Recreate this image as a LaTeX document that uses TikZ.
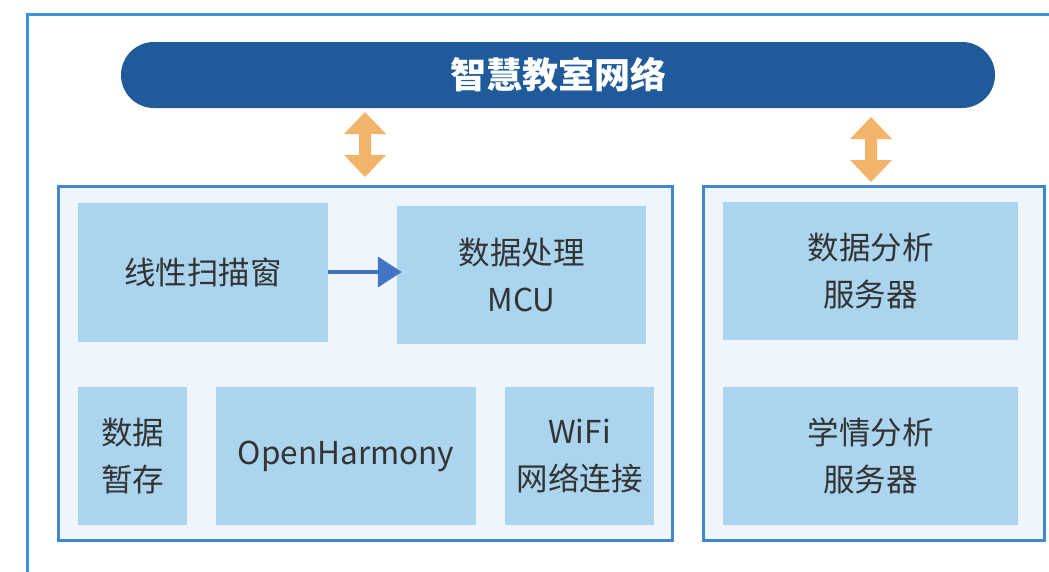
\documentclass[tikz,border=0pt]{standalone}
\usepackage{fontspec}
\setmainfont{Noto Sans CJK SC}
\usetikzlibrary{arrows.meta}
\definecolor{pillblue}{HTML}{1F5A9B}
\definecolor{boxfill}{HTML}{ABD5EF}
\definecolor{contfill}{HTML}{EEF5FC}
\definecolor{contline}{HTML}{3F88CC}
\definecolor{frameline}{HTML}{3C93DA}
\definecolor{orangeA}{HTML}{F2B36B}
\definecolor{arrowblue}{HTML}{4472C4}
\definecolor{txt}{HTML}{333333}
\tikzset{
  inbox/.style={fill=boxfill, draw=none, inner sep=0pt, align=center, text=txt,
    font=\fontsize{31.5}{47}\selectfont},
  container/.style={fill=contfill, draw=contline, line width=3pt, inner sep=0pt},
  pill/.style={fill=pillblue, rounded corners=33pt, draw=none, inner sep=0pt,
    text=white, font=\fontsize{36}{40}\selectfont\bfseries},
  updown/.style={fill=orangeA, draw=none},
}
\begin{document}
\begin{tikzpicture}[x=1pt,y=-1pt]
\useasboundingbox (0,0) rectangle (1049,571);
\clip (0,0) rectangle (1049,571);
% outer frame
\draw[frameline, line width=3pt] (27,14) rectangle (1080,600);
% title pill
\node[pill, minimum width=874pt, minimum height=66pt] (net) at (558,75) {智慧教室网络};
% containers
\node[container, minimum width=614pt, minimum height=354pt] (left) at (365,363) {};
\node[container, minimum width=341pt, minimum height=354pt] (right) at (873.5,363) {};
% inner boxes
\node[inbox, minimum width=250pt, minimum height=139pt] (scan) at (203,272.5) {线性扫描窗};
\node[inbox, minimum width=249pt, minimum height=138pt] (mcu) at (521.5,275) {数据处理\\MCU};
\node[inbox, minimum width=109pt, minimum height=138pt] (store) at (132.5,456) {数据\\暂存};
\node[inbox, minimum width=260pt, minimum height=138pt] (oh) at (346,456) {OpenHarmony};
\node[inbox, minimum width=149pt, minimum height=138pt] (wifi) at (579.5,456) {WiFi\\网络连接};
\node[inbox, minimum width=295pt, minimum height=138pt] (ana) at (870.5,271) {数据分析\\服务器};
\node[inbox, minimum width=295pt, minimum height=138pt] (learn) at (870.5,456) {学情分析\\服务器};
% blue arrow
\draw[arrowblue, line width=4pt, -{Triangle[length=24pt,width=30pt]}, shorten >=-5pt]
  (scan.east |- 0,272) -- (mcu.west |- 0,272);
% orange double arrows
\coordinate (la) at (365,112);
\coordinate (ra) at (871,117);
\fill[updown] (la) -- ++(21,22) -- ++(-15,0) -- ++(0,21) -- ++(15,0) -- ++(-21,22)
  -- ++(-21,-22) -- ++(15,0) -- ++(0,-21) -- ++(-15,0) -- cycle;
\fill[updown] (ra) -- ++(21,22) -- ++(-15,0) -- ++(0,21) -- ++(15,0) -- ++(-21,22)
  -- ++(-21,-22) -- ++(15,0) -- ++(0,-21) -- ++(-15,0) -- cycle;
\end{tikzpicture}
\end{document}
